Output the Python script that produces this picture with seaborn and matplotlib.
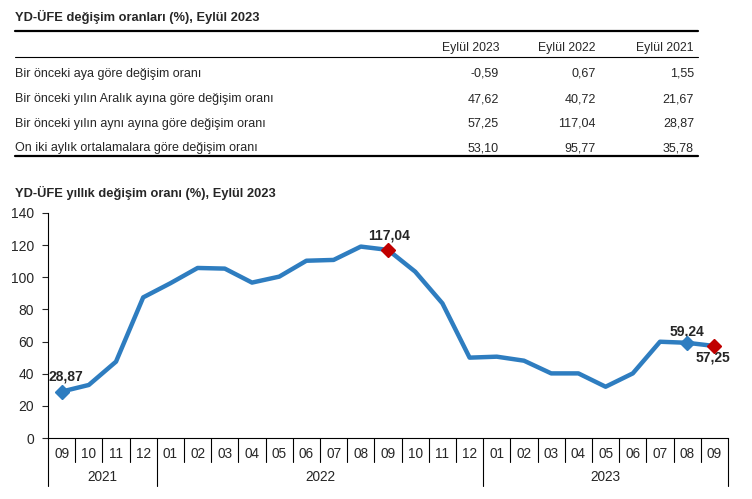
import numpy as np
import pandas as pd
import matplotlib.pyplot as plt
import seaborn as sns
from matplotlib.lines import Line2D

# Table data
table_title = "YD-ÜFE değişim oranları (%), Eylül 2023"
col_headers = ["Eylül 2023", "Eylül 2022", "Eylül 2021"]
row_labels = [
    "Bir önceki aya göre değişim oranı",
    "Bir önceki yılın Aralık ayına göre değişim oranı",
    "Bir önceki yılın aynı ayına göre değişim oranı",
    "On iki aylık ortalamalara göre değişim oranı",
]
row_values = [
    ["-0,59", "0,67", "1,55"],
    ["47,62", "40,72", "21,67"],
    ["57,25", "117,04", "28,87"],
    ["53,10", "95,77", "35,78"],
]

# Line chart data
chart_title = "YD-ÜFE yıllık değişim oranı (%), Eylül 2023"
months = ["09", "10", "11", "12",
          "01", "02", "03", "04", "05", "06", "07", "08", "09", "10", "11", "12",
          "01", "02", "03", "04", "05", "06", "07", "08", "09"]
years = ["2021", "2022", "2023"]
months_per_year = [4, 12, 9]
annual_rate = [28.87, 33.0, 47.5, 87.5,
               96.3, 105.8, 105.4, 96.7, 100.4, 110.3, 110.8, 119.1, 117.04, 103.5, 83.8, 50.0,
               50.6, 48.1, 40.2, 40.2, 31.9, 40.2, 59.9, 59.24, 57.25]
blue_points = [0, 23]
red_points = [12, 24]

W, H = 752, 499
blue = "#2E7DC0"
red = "#C00000"

sns.set_style("white")
plt.rcParams['font.family'] = ['Liberation Sans', 'DejaVu Sans']

fig = plt.figure(figsize=(W / 100, H / 100), dpi=100)


def fx(x):
    return x / W


def fy(y):
    return 1 - y / H


def hline(x0, x1, y, lw):
    fig.add_artist(Line2D([fx(x0), fx(x1)], [fy(y), fy(y)], color="black", lw=lw))


# ---- table ----
fig.text(fx(15), fy(17), table_title, fontsize=9.3, fontweight="bold", va="center")
hline(15, 698, 30.5, 1.6)
col_x = [499, 596, 694]
for cx, h in zip(col_x, col_headers):
    fig.text(fx(cx), fy(48), h, fontsize=8.8, ha="right", va="center")
hline(15, 698, 57.3, 0.8)
row_y = [74, 99, 124, 148]
for ry, lab, vals in zip(row_y, row_labels, row_values):
    fig.text(fx(15), fy(ry), lab, fontsize=9, va="center")
    for cx, v in zip(col_x, vals):
        fig.text(fx(cx), fy(ry), v, fontsize=9, ha="right", va="center")
hline(15, 698, 156.5, 1.6)

# ---- chart ----
fig.text(fx(15), fy(193), chart_title, fontsize=9.3, fontweight="bold", va="center")

ax = fig.add_axes([fx(48), fy(438), (728 - 48) / W, (438 - 213) / H])
df = pd.DataFrame({"pos": np.arange(len(months)), "rate": annual_rate})
sns.lineplot(data=df, x="pos", y="rate", ax=ax, color=blue, lw=3.2)

for idx_list, c in [(blue_points, blue), (red_points, red)]:
    ax.plot(df["pos"].iloc[idx_list], df["rate"].iloc[idx_list], "D", color=c,
            ms=7.5, mec=c, zorder=5)


def fmt(v):
    return f"{v:.2f}".replace(".", ",")


# offsets in pixels (x right, y up)
label_offsets = {0: (4, 15), 12: (1, 14), 23: (0, 11), 24: (-1, -12)}
for i, (ox, oy) in label_offsets.items():
    ax.annotate(fmt(annual_rate[i]), (df["pos"][i], annual_rate[i]),
                xytext=(ox * 0.72, oy * 0.72), textcoords="offset points",
                ha="center", va="center", fontsize=10, fontweight="bold")

ax.set_xlim(-0.5, len(months) - 0.5)
ax.set_ylim(0, 140)
ax.set_yticks(range(0, 141, 20))
ax.set_xticks(df["pos"])
ax.set_xticklabels(months)
ax.set_xlabel("")
ax.set_ylabel("")
ax.tick_params(axis="y", length=4, width=0.8, pad=6, labelsize=10, direction="out", left=True)
ax.tick_params(axis="x", length=0, pad=6.5, labelsize=9.8)
for s in ["top", "right"]:
    ax.spines[s].set_visible(False)
for s in ["left", "bottom"]:
    ax.spines[s].set_color("black")
    ax.spines[s].set_linewidth(0.8)

# multi-level x axis dividers
axh = 438 - 213
xt = ax.get_xaxis_transform()
month_drop = -24 / axh
year_drop = -48 / axh
edges = np.cumsum([0] + months_per_year) - 0.5
for b in np.arange(len(months) + 1) - 0.5:
    drop = year_drop if b in edges else month_drop
    ax.plot([b, b], [0, drop], transform=xt, color="black", lw=0.8, clip_on=False)
for k, yr in enumerate(years):
    ax.text((edges[k] + edges[k + 1]) / 2, -39 / axh, yr, transform=xt,
            ha="center", va="center", fontsize=9.8)

fig.savefig("out.png", dpi=100)
